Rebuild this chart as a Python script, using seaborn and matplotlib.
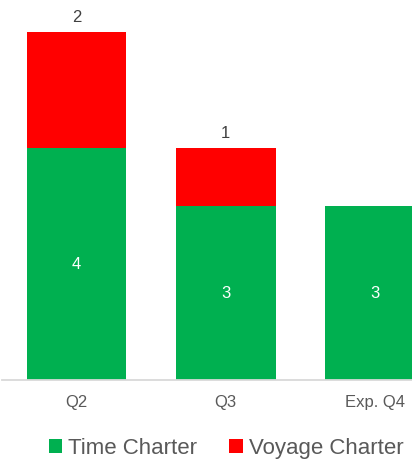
import matplotlib
matplotlib.use("Agg")
import matplotlib.pyplot as plt
import seaborn as sns
import pandas as pd
from matplotlib.patches import Patch

categories = ["Q2", "Q3", "Exp. Q4"]
time_charter = [4, 3, 3]
voyage_charter = [2, 1, 0]

GREEN = "#00B050"
RED = "#FF0000"
GRAY_TXT = "#595959"

sns.set_theme(style="white")
plt.rcParams["font.family"] = ["Liberation Sans", "DejaVu Sans"]

totals = [t + v for t, v in zip(time_charter, voyage_charter)]
df = pd.DataFrame({"cat": categories, "time": time_charter, "voy": voyage_charter, "total": totals})

fig = plt.figure(figsize=(4.12, 4.61), dpi=100)
ax = fig.add_axes([2 / 412, 81 / 461, 410 / 412, 380 / 461])

sns.barplot(data=df, x="cat", y="total", color=RED, width=0.67, saturation=1,
            linewidth=0, edgecolor="none", ax=ax)
sns.barplot(data=df, x="cat", y="time", color=GREEN, width=0.67, saturation=1,
            linewidth=0, edgecolor="none", ax=ax)

ax.set_xlim(-0.5, 2.25)
ax.set_ylim(0, 380 / 58)
ax.set_xlabel("")
ax.set_ylabel("")
ax.set_yticks([])
for s in ["top", "left", "right"]:
    ax.spines[s].set_visible(False)
ax.spines["bottom"].set_color("#D9D9D9")
ax.spines["bottom"].set_linewidth(1.3)
ax.tick_params(axis="x", length=0, pad=11, labelsize=12, labelcolor=GRAY_TXT)

for i in range(len(categories)):
    t = time_charter[i]
    v = voyage_charter[i]
    ax.text(i, t / 2, str(t), ha="center", va="center", color="white", fontsize=12)
    if v > 0:
        ax.annotate(str(v), (i, t + v), xytext=(0, 5), textcoords="offset points",
                    ha="center", va="bottom", color="#404040", fontsize=12)

handles = [Patch(facecolor=GREEN, edgecolor="none", label="Time Charter"),
           Patch(facecolor=RED, edgecolor="none", label="Voyage Charter")]
leg = fig.legend(handles=handles, loc="center", bbox_to_anchor=(0.549, 1 - 448 / 461),
                 ncol=2, frameon=False, fontsize=16, handlelength=0.6, handleheight=0.6,
                 handletextpad=0.28, columnspacing=1.45)
for txt in leg.get_texts():
    txt.set_color(GRAY_TXT)

fig.savefig("out.png", dpi=100)
